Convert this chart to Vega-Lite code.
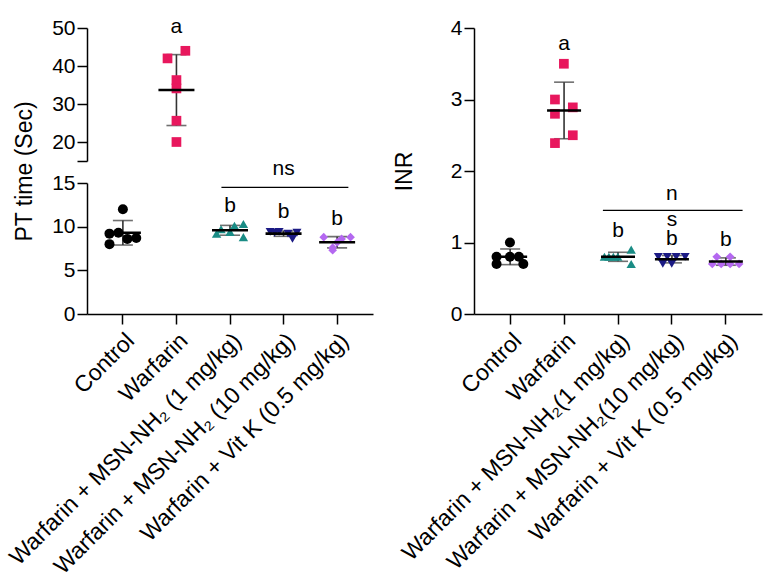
{
  "$schema": "https://vega.github.io/schema/vega-lite/v6.json",
  "background": "white",
  "padding": {"left": 5, "top": 16, "right": 5, "bottom": 5},
  "datasets": {
    "pt": [
      {"group": "Control", "value": 12.0, "lane": 0},
      {"group": "Control", "value": 9.2, "lane": -3},
      {"group": "Control", "value": 9.3, "lane": -1},
      {"group": "Control", "value": 8.0, "lane": -3},
      {"group": "Control", "value": 8.6, "lane": 1},
      {"group": "Control", "value": 8.7, "lane": 3},
      {"group": "Warfarin", "value": 42.0, "lane": -2},
      {"group": "Warfarin", "value": 44.0, "lane": 2},
      {"group": "Warfarin", "value": 36.3, "lane": 0},
      {"group": "Warfarin", "value": 34.1, "lane": 0},
      {"group": "Warfarin", "value": 25.6, "lane": 0},
      {"group": "Warfarin", "value": 20.0, "lane": 0},
      {"group": "Warfarin + MSN-NH₂ (1 mg/kg)", "value": 9.2, "lane": -3},
      {"group": "Warfarin + MSN-NH₂ (1 mg/kg)", "value": 9.7, "lane": -2},
      {"group": "Warfarin + MSN-NH₂ (1 mg/kg)", "value": 9.4, "lane": 0},
      {"group": "Warfarin + MSN-NH₂ (1 mg/kg)", "value": 10.1, "lane": 1},
      {"group": "Warfarin + MSN-NH₂ (1 mg/kg)", "value": 10.3, "lane": 3},
      {"group": "Warfarin + MSN-NH₂ (1 mg/kg)", "value": 8.8, "lane": 3},
      {"group": "Warfarin + MSN-NH₂ (10 mg/kg)", "value": 9.4, "lane": -3},
      {"group": "Warfarin + MSN-NH₂ (10 mg/kg)", "value": 9.3, "lane": -2},
      {"group": "Warfarin + MSN-NH₂ (10 mg/kg)", "value": 9.4, "lane": -1},
      {"group": "Warfarin + MSN-NH₂ (10 mg/kg)", "value": 9.2, "lane": 1},
      {"group": "Warfarin + MSN-NH₂ (10 mg/kg)", "value": 8.6, "lane": 2},
      {"group": "Warfarin + MSN-NH₂ (10 mg/kg)", "value": 9.3, "lane": 3},
      {"group": "Warfarin + Vit K (0.5 mg/kg)", "value": 8.8, "lane": -3},
      {"group": "Warfarin + Vit K (0.5 mg/kg)", "value": 7.6, "lane": -1},
      {"group": "Warfarin + Vit K (0.5 mg/kg)", "value": 8.6, "lane": 1},
      {"group": "Warfarin + Vit K (0.5 mg/kg)", "value": 8.8, "lane": 3},
      {"group": "Warfarin + Vit K (0.5 mg/kg)", "value": 8.2, "lane": 0},
      {"group": "Warfarin + Vit K (0.5 mg/kg)", "value": 7.3, "lane": -1}
    ],
    "inr": [
      {"group": "Control", "value": 1.0, "lane": 0},
      {"group": "Control", "value": 0.8, "lane": -3},
      {"group": "Control", "value": 0.8, "lane": 0},
      {"group": "Control", "value": 0.8, "lane": 2},
      {"group": "Control", "value": 0.7, "lane": -3},
      {"group": "Control", "value": 0.7, "lane": 3},
      {"group": "Warfarin", "value": 3.5, "lane": 0},
      {"group": "Warfarin", "value": 3.0, "lane": -2},
      {"group": "Warfarin", "value": 2.89, "lane": 2},
      {"group": "Warfarin", "value": 2.8, "lane": -2},
      {"group": "Warfarin", "value": 2.5, "lane": 2},
      {"group": "Warfarin", "value": 2.39, "lane": -2},
      {"group": "Warfarin + MSN-NH₂ (1 mg/kg)", "value": 0.8, "lane": -3},
      {"group": "Warfarin + MSN-NH₂ (1 mg/kg)", "value": 0.8, "lane": -2},
      {"group": "Warfarin + MSN-NH₂ (1 mg/kg)", "value": 0.8, "lane": -1},
      {"group": "Warfarin + MSN-NH₂ (1 mg/kg)", "value": 0.8, "lane": 0},
      {"group": "Warfarin + MSN-NH₂ (1 mg/kg)", "value": 0.9, "lane": 3},
      {"group": "Warfarin + MSN-NH₂ (1 mg/kg)", "value": 0.7, "lane": 3},
      {"group": "Warfarin + MSN-NH₂ (10 mg/kg)", "value": 0.8, "lane": -3},
      {"group": "Warfarin + MSN-NH₂ (10 mg/kg)", "value": 0.8, "lane": -1},
      {"group": "Warfarin + MSN-NH₂ (10 mg/kg)", "value": 0.8, "lane": 1},
      {"group": "Warfarin + MSN-NH₂ (10 mg/kg)", "value": 0.8, "lane": 3},
      {"group": "Warfarin + MSN-NH₂ (10 mg/kg)", "value": 0.7, "lane": -2},
      {"group": "Warfarin + MSN-NH₂ (10 mg/kg)", "value": 0.7, "lane": 0},
      {"group": "Warfarin + Vit K (0.5 mg/kg)", "value": 0.8, "lane": -2},
      {"group": "Warfarin + Vit K (0.5 mg/kg)", "value": 0.8, "lane": 1},
      {"group": "Warfarin + Vit K (0.5 mg/kg)", "value": 0.7, "lane": -3},
      {"group": "Warfarin + Vit K (0.5 mg/kg)", "value": 0.7, "lane": -1},
      {"group": "Warfarin + Vit K (0.5 mg/kg)", "value": 0.7, "lane": 1},
      {"group": "Warfarin + Vit K (0.5 mg/kg)", "value": 0.7, "lane": 3}
    ],
    "ptNotes": [
      {"group": "Warfarin", "note": "a", "y": 50.2, "part": "upper"},
      {"group": "Warfarin + MSN-NH₂ (1 mg/kg)", "note": "b", "y": 12.4, "part": "lower"},
      {"group": "Warfarin + MSN-NH₂ (10 mg/kg)", "note": "b", "y": 11.65, "part": "lower"},
      {"group": "Warfarin + Vit K (0.5 mg/kg)", "note": "b", "y": 10.9, "part": "lower"},
      {"group": "Warfarin + MSN-NH₂ (10 mg/kg)", "note": "ns", "y": 16.6, "part": "lower"}
    ],
    "inrNotes": [
      {"group": "Warfarin", "note": "a", "y": 3.78},
      {"group": "Warfarin + MSN-NH₂ (1 mg/kg)", "note": "b", "y": 1.16},
      {"group": "Warfarin + MSN-NH₂ (10 mg/kg)", "note": "b", "y": 1.05},
      {"group": "Warfarin + Vit K (0.5 mg/kg)", "note": "b", "y": 1.03},
      {"group": "Warfarin + MSN-NH₂ (10 mg/kg)", "note": "n", "y": 1.68},
      {"group": "Warfarin + MSN-NH₂ (10 mg/kg)", "note": "s", "y": 1.31}
    ],
    "ptBracket": [
      {"from": "Warfarin + MSN-NH₂ (1 mg/kg)", "to": "Warfarin + Vit K (0.5 mg/kg)", "y": 14.5}
    ],
    "inrBracket": [
      {"from": "Warfarin + MSN-NH₂ (1 mg/kg)", "to": "Warfarin + Vit K (0.5 mg/kg)", "y": 1.45}
    ]
  },
  "hconcat": [
    {
      "bounds": "flush",
      "spacing": 22,
      "vconcat": [
        {
          "width": 286,
          "height": 133,
          "data": {"name": "pt"},
          "transform": [{"filter": "datum.value > 15"}],
          "encoding": {
            "x": {
              "field": "group",
              "type": "nominal",
              "sort": null,
              "scale": {
                "type": "band",
                "domain": ["Control", "Warfarin", "Warfarin + MSN-NH₂ (1 mg/kg)", "Warfarin + MSN-NH₂ (10 mg/kg)", "Warfarin + Vit K (0.5 mg/kg)"],
                "paddingInner": 0,
                "paddingOuter": 0.17
              },
              "axis": null
            },
            "y": {
              "type": "quantitative",
              "scale": {"domain": [15, 50], "nice": false, "zero": false},
              "axis": {
                "values": [15, 20, 30, 40, 50],
                "labelExpr": "datum.value == 15 ? '' : datum.label",
                "labelOverlap": false,
                "title": null
              }
            }
          },
          "layer": [
            {
              "mark": {"type": "errorbar", "extent": "stdev", "ticks": true, "size": 20, "thickness": 1.6, "color": "#333333"},
              "encoding": {
                "y": {"field": "value", "type": "quantitative"}
              }
            },
            {
              "mark": {"type": "point", "filled": true, "opacity": 1, "strokeWidth": 0},
              "encoding": {
                "y": {"field": "value", "type": "quantitative"},
                "xOffset": {"field": "lane", "type": "quantitative", "scale": {"domain": [-6, 6]}},
                "color": {"field": "group", "type": "nominal", "legend": null,
                  "scale": {"domain": ["Control", "Warfarin", "Warfarin + MSN-NH₂ (1 mg/kg)", "Warfarin + MSN-NH₂ (10 mg/kg)", "Warfarin + Vit K (0.5 mg/kg)"],
                    "range": ["#000000", "#E8175D", "#1A8C85", "#1B1A84", "#B468F0"]}},
                "shape": {"field": "group", "type": "nominal", "legend": null,
                  "scale": {"domain": ["Control", "Warfarin", "Warfarin + MSN-NH₂ (1 mg/kg)", "Warfarin + MSN-NH₂ (10 mg/kg)", "Warfarin + Vit K (0.5 mg/kg)"],
                    "range": ["circle", "square", "triangle-up", "triangle-down", "diamond"]}},
                "size": {"field": "group", "type": "nominal", "legend": null,
                  "scale": {"domain": ["Control", "Warfarin", "Warfarin + MSN-NH₂ (1 mg/kg)", "Warfarin + MSN-NH₂ (10 mg/kg)", "Warfarin + Vit K (0.5 mg/kg)"],
                    "range": [100, 76, 100, 100, 100]}}
              }
            },
            {
              "mark": {"type": "tick", "size": 36, "thickness": 2.6, "color": "#000000"},
              "encoding": {
                "y": {"aggregate": "mean", "field": "value", "type": "quantitative"}
              }
            },
            {
              "data": {"name": "ptNotes"},
              "transform": [{"filter": "datum.part == 'upper'"}],
              "mark": {"type": "text", "fontSize": 21, "baseline": "middle", "align": "center", "color": "#000000"},
              "encoding": {
                "y": {"field": "y", "type": "quantitative"},
                "text": {"field": "note"}
              }
            }
          ]
        },
        {
          "width": 286,
          "height": 131,
          "encoding": {
            "x": {
              "field": "group",
              "type": "nominal",
              "sort": null,
              "scale": {
                "type": "band",
                "domain": ["Control", "Warfarin", "Warfarin + MSN-NH₂ (1 mg/kg)", "Warfarin + MSN-NH₂ (10 mg/kg)", "Warfarin + Vit K (0.5 mg/kg)"],
                "paddingInner": 0,
                "paddingOuter": 0.17
              },
              "axis": {"title": null, "labelAngle": -45, "labelFontSize": 23, "labelLimit": 500, "labelDx": -4, "labelPadding": 5}
            }
          },
          "layer": [
            {
              "data": {"name": "pt"},
              "transform": [{"filter": "datum.value <= 15"}],
              "mark": {"type": "errorbar", "extent": "stdev", "ticks": true, "size": 20, "thickness": 1.6, "color": "#333333"},
              "encoding": {
                "y": {"field": "value", "type": "quantitative", "scale": {"domain": [0, 15], "nice": false},
                  "axis": {"values": [0, 5, 10, 15], "labelOverlap": false, "title": "PT time (Sec)", "titleY": -12, "titlePadding": 15}}
              }
            },
            {
              "data": {"name": "pt"},
              "transform": [{"filter": "datum.value <= 15"}],
              "mark": {"type": "point", "filled": true, "opacity": 1, "strokeWidth": 0},
              "encoding": {
                "y": {"field": "value", "type": "quantitative"},
                "xOffset": {"field": "lane", "type": "quantitative", "scale": {"domain": [-6, 6]}},
                "color": {"field": "group", "type": "nominal", "legend": null,
                  "scale": {"domain": ["Control", "Warfarin", "Warfarin + MSN-NH₂ (1 mg/kg)", "Warfarin + MSN-NH₂ (10 mg/kg)", "Warfarin + Vit K (0.5 mg/kg)"],
                    "range": ["#000000", "#E8175D", "#1A8C85", "#1B1A84", "#B468F0"]}},
                "shape": {"field": "group", "type": "nominal", "legend": null,
                  "scale": {"domain": ["Control", "Warfarin", "Warfarin + MSN-NH₂ (1 mg/kg)", "Warfarin + MSN-NH₂ (10 mg/kg)", "Warfarin + Vit K (0.5 mg/kg)"],
                    "range": ["circle", "square", "triangle-up", "triangle-down", "diamond"]}},
                "size": {"field": "group", "type": "nominal", "legend": null,
                  "scale": {"domain": ["Control", "Warfarin", "Warfarin + MSN-NH₂ (1 mg/kg)", "Warfarin + MSN-NH₂ (10 mg/kg)", "Warfarin + Vit K (0.5 mg/kg)"],
                    "range": [100, 76, 100, 100, 100]}}
              }
            },
            {
              "data": {"name": "pt"},
              "transform": [{"filter": "datum.value <= 15"}],
              "mark": {"type": "tick", "size": 36, "thickness": 2.6, "color": "#000000"},
              "encoding": {
                "y": {"aggregate": "mean", "field": "value", "type": "quantitative"}
              }
            },
            {
              "data": {"name": "ptBracket"},
              "mark": {"type": "rule", "color": "#000000", "strokeWidth": 1.4},
              "encoding": {
                "x": {"field": "from", "type": "nominal", "bandPosition": 0.34},
                "x2": {"field": "to", "bandPosition": 0.71},
                "y": {"field": "y", "type": "quantitative"}
              }
            },
            {
              "data": {"name": "ptNotes"},
              "transform": [{"filter": "datum.part == 'lower'"}],
              "mark": {"type": "text", "fontSize": 21, "baseline": "middle", "align": "center", "color": "#000000"},
              "encoding": {
                "y": {"field": "y", "type": "quantitative"},
                "text": {"field": "note"}
              }
            }
          ]
        }
      ]
    },
    {
      "width": 288,
      "height": 286,
      "encoding": {
        "x": {
          "field": "group",
          "type": "nominal",
          "sort": null,
          "scale": {
            "type": "band",
            "domain": ["Control", "Warfarin", "Warfarin + MSN-NH₂ (1 mg/kg)", "Warfarin + MSN-NH₂ (10 mg/kg)", "Warfarin + Vit K (0.5 mg/kg)"],
            "paddingInner": 0,
            "paddingOuter": 0.17
          },
          "axis": {"title": null, "labelAngle": -45, "labelFontSize": 23, "labelLimit": 500, "labelDx": -4, "labelPadding": 5,
            "labelExpr": "replace(datum.label, '₂ (', '₂(')"}
        }
      },
      "layer": [
        {
          "data": {"name": "inr"},
          "mark": {"type": "errorbar", "extent": "stdev", "ticks": true, "size": 20, "thickness": 1.6, "color": "#333333"},
          "encoding": {
            "y": {"field": "value", "type": "quantitative", "scale": {"domain": [0, 4], "nice": false},
              "axis": {"values": [0, 1, 2, 3, 4], "format": "d", "labelOverlap": false, "title": "INR", "titlePadding": 34}}
          }
        },
        {
          "data": {"name": "inr"},
          "mark": {"type": "point", "filled": true, "opacity": 1, "strokeWidth": 0},
          "encoding": {
            "y": {"field": "value", "type": "quantitative"},
            "xOffset": {"field": "lane", "type": "quantitative", "scale": {"domain": [-6, 6]}},
            "color": {"field": "group", "type": "nominal", "legend": null,
              "scale": {"domain": ["Control", "Warfarin", "Warfarin + MSN-NH₂ (1 mg/kg)", "Warfarin + MSN-NH₂ (10 mg/kg)", "Warfarin + Vit K (0.5 mg/kg)"],
                "range": ["#000000", "#E8175D", "#1A8C85", "#1B1A84", "#B468F0"]}},
            "shape": {"field": "group", "type": "nominal", "legend": null,
              "scale": {"domain": ["Control", "Warfarin", "Warfarin + MSN-NH₂ (1 mg/kg)", "Warfarin + MSN-NH₂ (10 mg/kg)", "Warfarin + Vit K (0.5 mg/kg)"],
                "range": ["circle", "square", "triangle-up", "triangle-down", "diamond"]}},
            "size": {"field": "group", "type": "nominal", "legend": null,
              "scale": {"domain": ["Control", "Warfarin", "Warfarin + MSN-NH₂ (1 mg/kg)", "Warfarin + MSN-NH₂ (10 mg/kg)", "Warfarin + Vit K (0.5 mg/kg)"],
                "range": [100, 76, 100, 100, 100]}}
          }
        },
        {
          "data": {"name": "inr"},
          "mark": {"type": "tick", "size": 34, "thickness": 2.6, "color": "#000000"},
          "encoding": {
            "y": {"aggregate": "mean", "field": "value", "type": "quantitative"}
          }
        },
        {
          "data": {"name": "inrBracket"},
          "mark": {"type": "rule", "color": "#000000", "strokeWidth": 1.4},
          "encoding": {
            "x": {"field": "from", "type": "nominal", "bandPosition": 0.22},
            "x2": {"field": "to", "bandPosition": 0.81},
            "y": {"field": "y", "type": "quantitative"}
          }
        },
        {
          "data": {"name": "inrNotes"},
          "mark": {"type": "text", "fontSize": 21, "baseline": "middle", "align": "center", "color": "#000000"},
          "encoding": {
            "y": {"field": "y", "type": "quantitative"},
            "text": {"field": "note"}
          }
        }
      ]
    }
  ],
  "spacing": 20,
  "config": {
    "view": {"stroke": null},
    "font": "Liberation Sans",
    "axis": {
      "domainColor": "#000000",
      "domainWidth": 1.5,
      "tickColor": "#000000",
      "tickWidth": 1.5,
      "tickSize": 10,
      "labelColor": "#000000",
      "labelFont": "Liberation Sans",
      "labelFontSize": 21,
      "labelPadding": 2,
      "labelOverlap": false,
      "titleColor": "#000000",
      "titleFont": "Liberation Sans",
      "titleFontSize": 23,
      "titleFontWeight": "normal",
      "grid": false
    }
  }
}
